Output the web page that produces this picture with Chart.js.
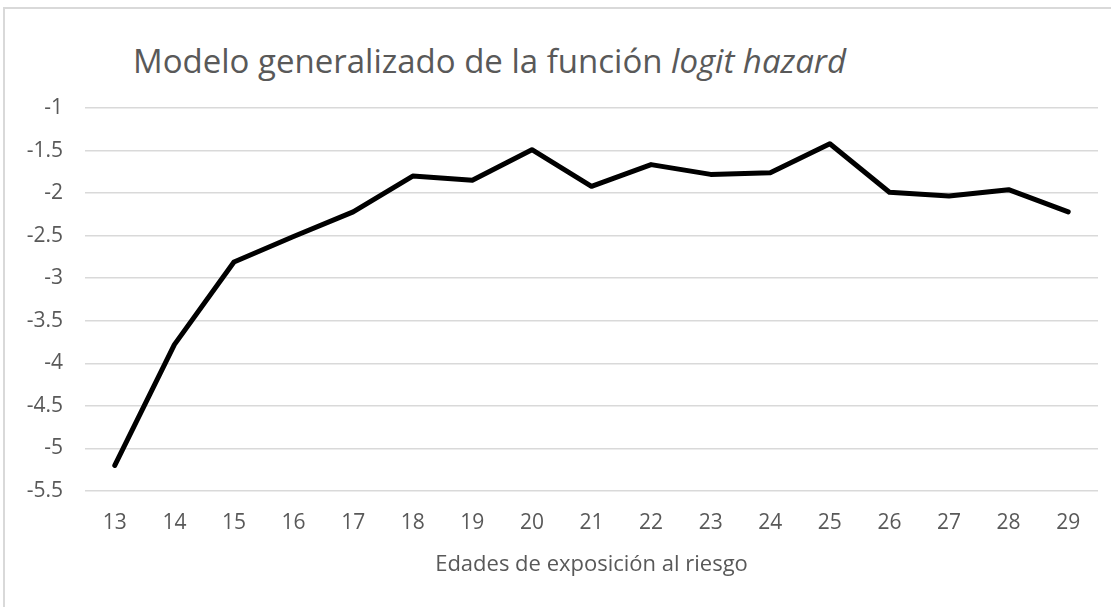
<!DOCTYPE html>
<html lang="es">
<head>
<meta charset="utf-8">
<title>Modelo generalizado de la función logit hazard</title>
<script src="https://cdn.jsdelivr.net/npm/chart.js@4.4.1/dist/chart.umd.min.js"></script>
<style>
  html, body { margin: 0; padding: 0; background: #fff; overflow: hidden; }
  body { width: 1111px; height: 607px; position: relative; font-family: "Open Sans", sans-serif; }
  #marco {
    position: absolute; left: 3px; top: 7px; width: 1200px; height: 700px;
    border: 2px solid #d9d9d9; box-sizing: border-box;
  }
  #titulo {
    position: absolute; left: 133px; top: 44px; margin: 0;
    font-size: 33px; line-height: 1; font-weight: normal; color: #595959; white-space: nowrap;
  }
  #caja { position: absolute; left: 0; top: 0; width: 1111px; height: 607px; }
</style>
</head>
<body>
<div id="marco"></div>
<h1 id="titulo">Modelo generalizado de la función <i>logit hazard</i></h1>
<div id="caja"><canvas id="grafico"></canvas></div>
<script>
// edades (eje x) y valores del logit hazard estimado
const edades = [13, 14, 15, 16, 17, 18, 19, 20, 21, 22, 23, 24, 25, 26, 27, 28, 29];
const logitHazard = [-5.2, -3.78, -2.81, -2.51, -2.22, -1.8, -1.85, -1.49, -1.92, -1.665, -1.78, -1.76, -1.42, -1.99, -2.035, -1.96, -2.22];
const yMin = -5.5, yMax = -1, yPaso = 0.5;

const gris = "#595959";
const fuenteTicks = { family: "'Open Sans', sans-serif", size: 21 };
const fuenteEje = { family: "'Open Sans', sans-serif", size: 22 };

window.addEventListener("DOMContentLoaded", () => {
    new Chart(document.getElementById("grafico"), {
        type: "line",
        data: {
            labels: edades.map(String),
            datasets: [{
                label: "logit hazard",
                data: logitHazard,
                borderColor: "#000",
                backgroundColor: "#000",
                borderWidth: 5,
                borderCapStyle: "round",
                borderJoinStyle: "round",
                pointRadius: 0,
                tension: 0
            }]
        },
        options: {
            responsive: true,
            maintainAspectRatio: false,
            animation: false,
            layout: { padding: { left: 0, right: 13, top: 108, bottom: 0 } },
            plugins: {
                legend: { display: false },
                tooltip: { enabled: false }
            },
            scales: {
                x: {
                    offset: true,
                    grid: { display: false, drawTicks: false },
                    border: { display: false },
                    ticks: { color: gris, font: fuenteTicks, padding: 19, maxRotation: 0, autoSkip: false },
                    title: {
                        display: true,
                        text: "Edades de exposición al riesgo",
                        color: gris,
                        font: fuenteEje,
                        padding: { top: 0, bottom: 29 }
                    },
                    afterFit: s => { s.height = 116; }
                },
                y: {
                    min: yMin,
                    max: yMax,
                    ticks: {
                        stepSize: yPaso, color: gris, font: fuenteTicks, padding: 22,
                        callback: v => String(v)
                    },
                    grid: { color: "#d9d9d9", lineWidth: 1.5, drawTicks: false },
                    border: { display: false },
                    afterFit: s => { s.width = 85; }
                }
            }
        }
    });
});
</script>
</body>
</html>
